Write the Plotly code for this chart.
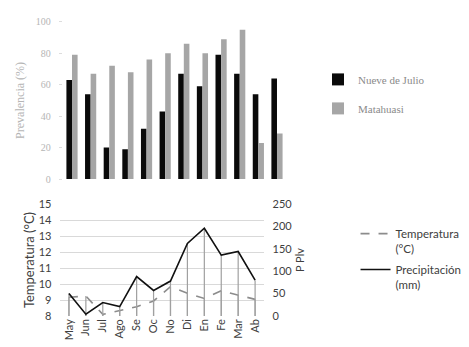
import plotly.graph_objects as go

months = ["May", "Jun", "Jul", "Ago", "Se", "Oc", "No", "Di", "En", "Fe", "Mar", "Ab"]
nueve_de_julio = [63, 54, 20, 19, 32, 43, 67, 59, 79, 67, 54, 64]
matahuasi = [79, 67, 72, 68, 76, 80, 86, 80, 89, 95, 23, 29]
temperatura = [9.17, 9.25, 8.1, 8.33, 8.58, 8.94, 9.83, 9.42, 9.1, 9.58, 9.31, 9.04]
precipitacion = [50, 4, 30, 21, 88, 57, 78, 162, 196, 136, 144, 80]

T_MIN = 8
FONT = "Lato, 'Open Sans', sans-serif"
SERIF = "'Liberation Serif', 'DejaVu Serif', serif"

fig = go.Figure()

fig.add_trace(go.Bar(x=months, y=nueve_de_julio, name="Nueve de Julio",
                     marker=dict(color="#0a0a0a", line=dict(width=0)),
                     xaxis="x", yaxis="y", legend="legend", legendgroup="a"))
fig.add_trace(go.Bar(x=months, y=matahuasi, name="Matahuasi",
                     marker=dict(color="#a6a6a6", line=dict(width=0)),
                     xaxis="x", yaxis="y", legend="legend", legendgroup="b"))

# drop lines (from data via error bars)
fig.add_trace(go.Scatter(x=months, y=temperatura, mode="none", showlegend=False,
                         error_y=dict(type="data", symmetric=False,
                                      array=[0] * len(temperatura),
                                      arrayminus=[t - T_MIN for t in temperatura],
                                      color="#a0a0a0", thickness=1.2, width=0),
                         xaxis="x2", yaxis="y2", hoverinfo="skip"))
fig.add_trace(go.Scatter(x=months, y=precipitacion, mode="none", showlegend=False,
                         error_y=dict(type="data", symmetric=False,
                                      array=[0] * len(precipitacion),
                                      arrayminus=precipitacion,
                                      color="#a0a0a0", thickness=1.2, width=0),
                         xaxis="x2", yaxis="y3", hoverinfo="skip"))

fig.add_trace(go.Scatter(x=months, y=temperatura, mode="lines", name="Temperatura<br>(°C)",
                         line=dict(color="#8c8c8c", width=1.6, dash="dash"),
                         xaxis="x2", yaxis="y2", legend="legend2", legendgroup="c"))
fig.add_trace(go.Scatter(x=months, y=precipitacion, mode="lines", name="Precipitación<br>(mm)",
                         line=dict(color="#111111", width=1.6),
                         xaxis="x2", yaxis="y3", legend="legend2", legendgroup="d"))

fig.update_layout(
    width=469, height=347,
    margin=dict(l=0, r=0, t=0, b=0, autoexpand=False),
    paper_bgcolor="white", plot_bgcolor="white",
    barmode="group", bargap=0.4, bargroupgap=0,
    font=dict(family=FONT, color="#404040", size=11),
    xaxis=dict(domain=[0.1166, 0.5934], anchor="y", showticklabels=False,
               showline=False, showgrid=False, ticks="", range=[-0.5, 11.5]),
    yaxis=dict(domain=[0.5071, 0.9601], anchor="x", range=[0, 100],
               tickvals=[0, 20, 40, 60, 80, 100], showgrid=False, zeroline=False,
               ticks="outside", ticklen=3, tickcolor="#dddddd", ticklabelstandoff=6,
               tickfont=dict(family=SERIF, size=10, color="#b5b5b5"),
               title=dict(text="Prevalencia (%)", standoff=8,
                          font=dict(family=SERIF, size=12, color="#b5b5b5"))),
    xaxis2=dict(domain=[0.1119, 0.5449], anchor="y2", range=[-0.5, 11.5],
                tickangle=-90, showgrid=False, showline=False, ticks="",
                tickfont=dict(size=11, color="#404040")),
    yaxis2=dict(domain=[0.1124, 0.4351], anchor="x2", range=[8, 15], dtick=1,
                showgrid=True, gridcolor="#d9d9d9", gridwidth=1, zeroline=False,
                ticks="", ticklabelstandoff=8,
                tickfont=dict(size=11, color="#404040"),
                title=dict(text="Temperatura (°C)", standoff=1,
                           font=dict(size=13, color="#404040"))),
    yaxis3=dict(overlaying="y2", side="right", anchor="x2", range=[0, 250], dtick=50,
                showgrid=False, zeroline=False, ticks="", ticklabelstandoff=8,
                tickfont=dict(size=11, color="#404040"),
                title=dict(text="P Plv", standoff=4,
                           font=dict(size=11, color="#404040"))),
    legend=dict(x=0.661, y=0.836, xanchor="left", yanchor="top",
                traceorder="grouped", tracegroupgap=10,
                font=dict(family=SERIF, size=11, color="#8a8a8a"),
                bgcolor="rgba(0,0,0,0)", itemwidth=30),
    legend2=dict(x=0.741, y=0.39, xanchor="left", yanchor="top",
                 traceorder="grouped", tracegroupgap=3, valign="top",
                 font=dict(size=11.5, color="#404040"),
                 bgcolor="rgba(0,0,0,0)", itemwidth=30),
)

fig.write_html("out.html")
